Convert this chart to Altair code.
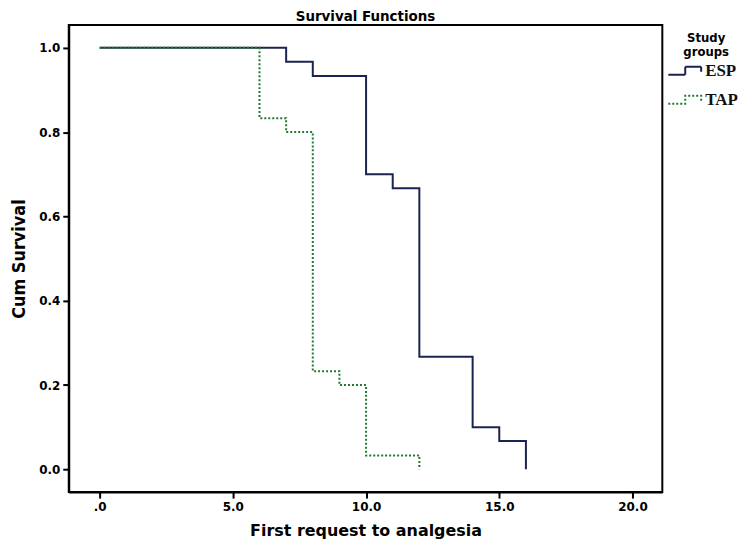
import altair as alt
import pandas as pd

esp_time = [0, 7, 8, 10, 11, 12, 14, 15, 16]
esp_surv = [1.0, 0.967, 0.933, 0.700, 0.667, 0.267, 0.100, 0.067, 0.0]
tap_time = [0, 6, 7, 8, 9, 10, 12]
tap_surv = [1.0, 0.833, 0.800, 0.233, 0.200, 0.033, 0.0]
groups = ["ESP", "TAP"]
x_ticks = [0, 5, 10, 15, 20]
y_ticks = [0.0, 0.2, 0.4, 0.6, 0.8, 1.0]

df = pd.concat([
    pd.DataFrame({"time": esp_time, "surv": esp_surv, "group": "ESP"}),
    pd.DataFrame({"time": tap_time, "surv": tap_surv, "group": "TAP"}),
])

step_path = "M-1.8,0.4H-0.1V-0.4H1.5V0.1"
narrow = "DejaVu Sans Condensed, Liberation Sans, sans-serif"

chart = alt.Chart(df).mark_line(interpolate="step-after", strokeWidth=2).encode(
    x=alt.X("time:Q", scale=alt.Scale(domain=[-1.16, 21.12], nice=False, zero=False),
            axis=alt.Axis(values=x_ticks, title="First request to analgesia",
                          labelExpr="datum.value == 0 ? '.0' : format(datum.value, '.1f')")),
    y=alt.Y("surv:Q", scale=alt.Scale(domain=[-0.054, 1.054], nice=False, zero=False),
            axis=alt.Axis(values=y_ticks, title="Cum Survival", format=".1f")),
    color=alt.Color("group:N", scale=alt.Scale(domain=groups, range=["#1b2350", "#1f7a2e"]),
                    legend=alt.Legend(title=["Study", "groups"])),
    strokeDash=alt.StrokeDash("group:N", scale=alt.Scale(domain=groups, range=[[1, 0], [2, 2]]),
                              legend=alt.Legend(title=["Study", "groups"])),
).properties(
    width=596, height=469,
    title=alt.Title("Survival Functions", font=narrow, fontSize=15,
                    fontWeight="bold", color="black", offset=1),
    autosize=alt.AutoSizeParams(type="none"),
    padding={"left": 61, "top": 16, "right": 80, "bottom": 52},
).configure_view(
    stroke="black", strokeWidth=2
).configure_axis(
    domainColor="black", domainWidth=2, tickColor="black", tickWidth=2, tickSize=6,
    grid=False, labelColor="black", labelFont="DejaVu Sans", labelFontSize=12,
    labelFontWeight="bold", titleColor="black", titleFontWeight="bold",
).configure_axisX(
    titleFont="DejaVu Sans", titleFontSize=16, titlePadding=11, labelPadding=3,
).configure_axisY(
    titleFont=narrow, titleFontSize=18, titlePadding=10, labelPadding=3,
).configure_legend(
    orient="none", legendX=609, legendY=7, symbolType=step_path, symbolSize=400,
    symbolStrokeWidth=2,
    labelFont="Liberation Serif", labelFontSize=17, labelFontWeight="bold", labelColor="#111",
    titleFont=narrow, titleFontSize=13, titleFontWeight="bold", titleColor="black",
    titleAlign="center", titleAnchor="middle", titlePadding=1, titleLineHeight=14,
    rowPadding=10, labelOffset=8, padding=0,
)

chart.save("out.html", embed_options={"renderer": "svg", "actions": False})
